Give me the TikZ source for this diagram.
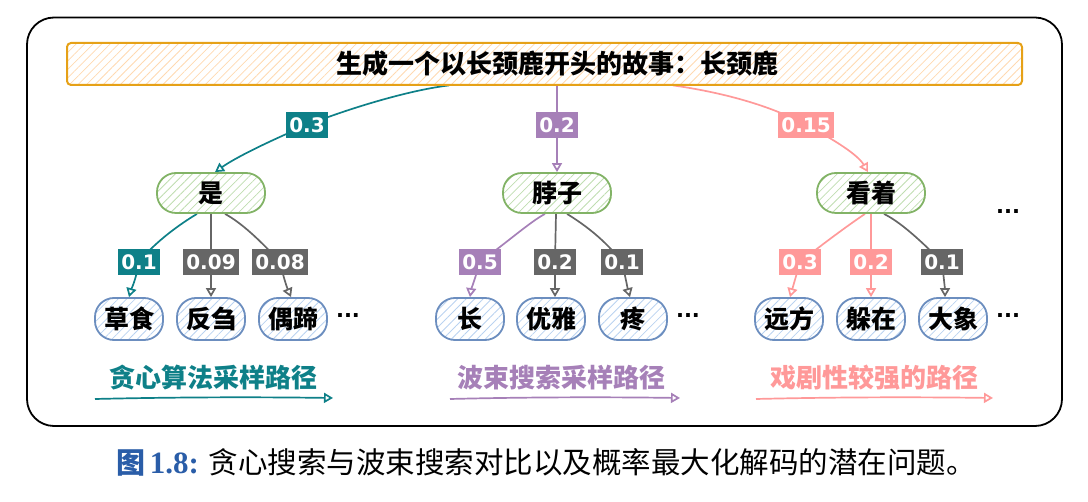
\documentclass[tikz,border=0pt]{standalone}
\usepackage{fontspec}
\setmainfont{Liberation Serif}
\newfontfamily\cjk{Noto Sans CJK SC}
\newfontfamily\numf{DejaVu Sans}
\usetikzlibrary{arrows.meta,patterns.meta,backgrounds}
\definecolor{corange}{HTML}{E6A117}
\definecolor{horange}{HTML}{FFD9B0}
\definecolor{cgreen}{HTML}{82B366}
\definecolor{hgreen}{HTML}{BFDDB0}
\definecolor{cblue}{HTML}{6C8EBF}
\definecolor{hblue}{HTML}{B9D2F0}
\definecolor{cteal}{HTML}{0E8088}
\definecolor{cpurple}{HTML}{A680B8}
\definecolor{cpink}{HTML}{FF9999}
\definecolor{cgray}{HTML}{666666}
\definecolor{capblue}{HTML}{2A5DA8}
\tikzset{
  hatch/.style={pattern={Lines[angle=45,distance=6pt,line width=0.8pt]},pattern color=#1},
  topbox/.style={draw=corange,line width=2pt,rounded corners=4pt,hatch=horange,
    minimum width=955pt,minimum height=42pt,inner sep=0pt},
  lvlone/.style={draw=cgreen,line width=1.8pt,rounded corners=19pt,hatch=hgreen,
    minimum width=108pt,minimum height=40pt,inner sep=0pt,font=\cjk\bfseries\fontsize{25pt}{25pt}\selectfont},
  lvltwo/.style={draw=cblue,line width=1.8pt,rounded corners=19pt,hatch=hblue,
    minimum width=68pt,minimum height=42pt,inner sep=0pt,font=\cjk\bfseries\fontsize{25pt}{25pt}\selectfont},
  prob/.style={fill=#1,text=white,inner xsep=3pt,inner ysep=0pt,minimum height=26pt,
    font=\numf\bfseries\fontsize{20pt}{20pt}\selectfont},
  edge/.style={draw=#1,line width=1.7pt,-{Triangle[open,length=9pt,width=10pt]}},
  pathlbl/.style={text=#1,font=\cjk\bfseries\fontsize{26pt}{26pt}\selectfont,inner sep=0pt},
  dots/.style={font=\numf\bfseries\fontsize{21pt}{21pt}\selectfont,inner sep=0pt}
}
\begin{document}
\begin{tikzpicture}[x=1pt,y=-1pt]
\useasboundingbox (0,0) rectangle (1088,502);
\draw[line width=1.8pt,rounded corners=27pt] (27,17.5) rectangle (1062,426);

% top prompt
\node[topbox] (top) at (544.5,64) {};
\node[font=\cjk\bfseries\fontsize{26pt}{26pt}\selectfont,inner sep=0pt] (title) at (557,64) {生成一个以长颈鹿开头的故事：长颈鹿};

% level one
\node[lvlone] (shi) at (211,193) {是};
\node[lvlone] (bozi) at (557,193) {脖子};
\node[lvlone] (kz) at (871,193) {看着};

% level two
\node[lvltwo] (cs) at (129,319) {草食};
\node[lvltwo] (fc) at (211,319) {反刍};
\node[lvltwo] (ot) at (293,319) {偶蹄};
\node[lvltwo] (chang) at (470,319) {长};
\node[lvltwo] (yy) at (551,319) {优雅};
\node[lvltwo] (teng) at (633,319) {疼};
\node[lvltwo] (yf) at (789,319) {远方};
\node[lvltwo] (dz) at (871,319) {躲在};
\node[lvltwo] (dx) at (953,319) {大象};

\node[dots] (d1) at (348,316) {...};
\node[dots] (d2) at (688,316) {...};
\node[dots] (d3) at (1008,316) {...};
\node[dots] (d4) at (1008,212) {...};

% probability labels
\node[prob=cteal] (l03) at (307,125) {0.3};
\node[prob=cpurple] (l02) at (557,125) {0.2};
\node[prob=cpink] (l015) at (806,125) {0.15};

\node[prob=cteal] (a1) at (139,262) {0.1};
\node[prob=cgray] (a2) at (211,262) {0.09};
\node[prob=cgray] (a3) at (280,262) {0.08};
\node[prob=cpurple] (b1) at (480,262) {0.5};
\node[prob=cgray] (b2) at (555,262) {0.2};
\node[prob=cgray] (b3) at (622,262) {0.1};
\node[prob=cpink] (c1) at (800,262) {0.3};
\node[prob=cpink] (c2) at (871,262) {0.2};
\node[prob=cgray] (c3) at (942,262) {0.1};

% path labels
\node[pathlbl=cteal] (p1) at (213,378) {贪心算法采样路径};
\node[pathlbl=cpurple] (p2) at (561,378) {波束搜索采样路径};
\node[pathlbl=cpink] (p3) at (874,378) {戏剧性较强的路径};
\coordinate (p1s) at (95,399);
\coordinate (p1e) at (333,398);
\coordinate (p2s) at (450,399);
\coordinate (p2e) at (680,398);
\coordinate (p3s) at (756,399);
\coordinate (p3e) at (993,398);

% caption
\node[inner sep=0pt] (cap) at (546,462) {{\color{capblue}\cjk\bfseries\fontsize{29pt}{29pt}\selectfont 图\,\rmfamily\bfseries\fontsize{31pt}{31pt}\selectfont 1.8:}\hspace{10pt}{\cjk\fontsize{29.5pt}{29.5pt}\selectfont 贪心搜索与波束搜索对比以及概率最大化解码的潜在问题。}};

\begin{pgfonlayer}{background}
% top edges
\draw[edge=cteal] ([xshift=-95.5pt]top.south) .. controls (410,90) and (350,108) .. (l03.center)
  .. controls (265,143) and (235,158) .. ([xshift=4pt]shi.north);
\draw[edge=cpurple] ([xshift=12.5pt]top.south) -- (l02.center) -- (bozi.north);
\draw[edge=cpink] ([xshift=128.5pt]top.south) .. controls (720,92) and (770,105) .. (l015.center)
  .. controls (835,140) and (858,155) .. ([xshift=-3pt]kz.north);
% level two edges
\draw[edge=cteal] ([xshift=-14pt]shi.south) .. controls (180,224) and (155,242) .. (a1.center)
  .. controls (136,280) and (131,290) .. (cs.north);
\draw[edge=cgray] (shi.south) -- (a2.center) -- (fc.north);
\draw[edge=cgray] ([xshift=14pt]shi.south) .. controls (240,222) and (258,238) .. (a3.center)
  .. controls (284,280) and (288,290) .. ([xshift=-2pt]ot.north);
\draw[edge=cpurple] ([xshift=-12pt]bozi.south) .. controls (530,222) and (510,240) .. (b1.center)
  .. controls (474,282) and (471,290) .. (chang.north);
\draw[edge=cgray] ([xshift=-1pt]bozi.south) -- (b2.center) -- ([xshift=4pt]yy.north);
\draw[edge=cgray] ([xshift=10pt]bozi.south) .. controls (585,225) and (605,240) .. (b3.center)
  .. controls (626,280) and (628,290) .. ([xshift=-3pt]teng.north);
\draw[edge=cpink] ([xshift=-6pt]kz.south) .. controls (850,224) and (828,240) .. (c1.center)
  .. controls (795,280) and (792,290) .. ([xshift=1pt]yf.north);
\draw[edge=cpink] (kz.south) -- (c2.center) -- (dz.north);
\draw[edge=cgray] ([xshift=13pt]kz.south) .. controls (900,222) and (918,238) .. (c3.center)
  .. controls (944,280) and (945,290) .. ([xshift=-8pt]dx.north);
% path arrows
\draw[edge=cteal] (p1s) .. controls (180,397) and (260,397) .. (p1e);
\draw[edge=cpurple] (p2s) .. controls (530,397) and (610,397) .. (p2e);
\draw[edge=cpink] (p3s) .. controls (840,397) and (920,397) .. (p3e);
\end{pgfonlayer}
\end{tikzpicture}
\end{document}
